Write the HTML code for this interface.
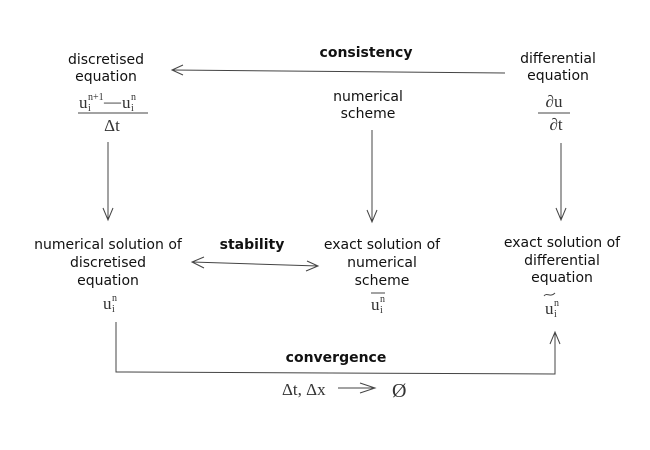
<!DOCTYPE html>
<html><head><style>
html,body{margin:0;padding:0;background:#fff;}
svg{display:block;}
text{font-family:"DejaVu Sans","Liberation Sans",sans-serif;font-size:14px;fill:#111;}
.b{font-weight:bold;}
.h{font-family:"Liberation Serif",serif;font-size:17px;fill:#333;}
.s{font-family:"Liberation Serif",serif;font-size:10px;fill:#333;}
</style></head><body>
<svg width="650" height="450" viewBox="0 0 650 450" xmlns="http://www.w3.org/2000/svg">
<g fill="none" stroke="#444" stroke-width="1">
<path d="M505 73 L172 70"/><path d="M183 65 L172 70 L183 75"/>
<path d="M108 142 L108 220"/><path d="M103 208 L108 220 L113 208"/>
<path d="M372 130 L372 222"/><path d="M367 210 L372 222 L377 210"/>
<path d="M561 143 L561 220"/><path d="M556 208 L561 220 L566 208"/>
<path d="M192 262 L318 266"/><path d="M204 257 L192 262 L204 268"/><path d="M307 261 L318 266 L306 271"/>
<path d="M116 322 L116 372 L555 374 L555 332"/><path d="M550 344 L555 332 L560 344"/>
<path d="M78 113 L148 113"/><path d="M538 113 L570 113"/>
<path d="M371 293 L385 293"/><path d="M544 296 C547 292 550 298 555 293"/>
<path d="M360 383 L375 388 L360 393"/><path d="M338 388 L373 388"/>
</g>
<text x="106" y="64" text-anchor="middle">discretised</text>
<text x="106" y="81" text-anchor="middle">equation</text>
<text x="79" y="108" class="h">u</text><text x="88" y="100" class="s">n+1</text><text x="88" y="111" class="s">i</text>
<text x="104" y="107" class="h">—</text><text x="122" y="108" class="h">u</text><text x="131" y="100" class="s">n</text><text x="131" y="111" class="s">i</text>
<text x="112" y="131" class="h" text-anchor="middle">Δt</text>
<text x="366" y="57" class="b" text-anchor="middle">consistency</text>
<text x="368" y="101" text-anchor="middle">numerical</text>
<text x="368" y="118" text-anchor="middle">scheme</text>
<text x="558" y="63" text-anchor="middle">differential</text>
<text x="558" y="80" text-anchor="middle">equation</text>
<text x="554" y="107" class="h" text-anchor="middle">∂u</text>
<text x="556" y="130" class="h" text-anchor="middle">∂t</text>
<text x="108" y="249" text-anchor="middle">numerical solution of</text>
<text x="108" y="267" text-anchor="middle">discretised</text>
<text x="108" y="285" text-anchor="middle">equation</text>
<text x="103" y="309" class="h">u</text><text x="112" y="301" class="s">n</text><text x="112" y="312" class="s">i</text>
<text x="252" y="249" class="b" text-anchor="middle">stability</text>
<text x="382" y="249" text-anchor="middle">exact solution of</text>
<text x="382" y="267" text-anchor="middle">numerical</text>
<text x="382" y="285" text-anchor="middle">scheme</text>
<text x="371" y="310" class="h">u</text><text x="380" y="302" class="s">n</text><text x="380" y="313" class="s">i</text>
<text x="562" y="247" text-anchor="middle">exact solution of</text>
<text x="562" y="265" text-anchor="middle">differential</text>
<text x="562" y="282" text-anchor="middle">equation</text>
<text x="545" y="314" class="h">u</text><text x="554" y="306" class="s">n</text><text x="554" y="317" class="s">i</text>
<text x="336" y="362" class="b" text-anchor="middle">convergence</text>
<text x="282" y="395" class="h">Δt, Δx</text>
<text x="392" y="397" class="h" style="font-size:20px">Ø</text>
</svg>
</body></html>
